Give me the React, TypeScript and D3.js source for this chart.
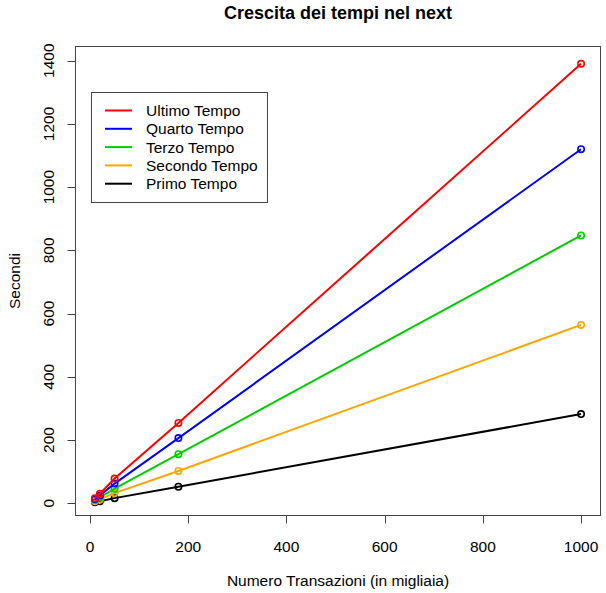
import * as d3 from "d3";

// migliaia di transazioni
const transazioni = [10, 20, 50, 180, 1000];

const ultimoTempo = [16, 30, 78, 254, 1390];
const quartoTempo = [13, 24, 62, 206, 1120];
const terzoTempo = [10, 18, 46, 155, 847];
const secondoTempo = [6, 12, 32, 102, 564];
const primoTempo = [3, 6, 16, 52, 282];

const seriesNames = ["Ultimo Tempo", "Quarto Tempo", "Terzo Tempo", "Secondo Tempo", "Primo Tempo"];
const seriesValues = [ultimoTempo, quartoTempo, terzoTempo, secondoTempo, primoTempo];
const seriesColors = ["#ff0000", "#0000ff", "#00cd00", "#ffa500", "#000000"];

const xTicks = [0, 200, 400, 600, 800, 1000];
const yTicks = [0, 200, 400, 600, 800, 1000, 1200, 1400];

const width = 606;
const height = 593;
const box = { left: 75.5, right: 600.5, top: 46.5, bottom: 515.5 };
const font = "'Liberation Sans', Arial, Helvetica, sans-serif";
const fs = 15.5;

// R style axis extension (4%)
const extend = (lo: number, hi: number) => {
  const d = (hi - lo) * 0.04;
  return [lo - d, hi + d];
};

export default function App() {
  const x = d3
    .scaleLinear()
    .domain(extend(d3.min(transazioni)!, d3.max(transazioni)!))
    .range([box.left, box.right]);
  const y = d3
    .scaleLinear()
    .domain(extend(d3.min(ultimoTempo)!, d3.max(ultimoTempo)!))
    .range([box.bottom, box.top]);

  const line = d3
    .line<number>()
    .x((_, i) => x(transazioni[i]))
    .y((d) => y(d));

  const legend = { left: 91.5, top: 92.5, right: 267.5, bottom: 202.5 };

  return (
    <svg width={width} height={height} style={{ display: "block", position: "absolute", left: 0, top: 0 }}>
      <rect width={width} height={height} fill="white" />
      <text x={(box.left + box.right) / 2} y={19} textAnchor="middle" fontFamily={font} fontWeight="bold" fontSize={18}>
        Crescita dei tempi nel next
      </text>

      {/* serie */}
      {seriesValues
        .slice()
        .reverse()
        .map((vals, ri) => {
          const i = seriesValues.length - 1 - ri;
          return (
            <g key={seriesNames[i]}>
              <path d={line(vals)!} fill="none" stroke={seriesColors[i]} strokeWidth={2} />
              {vals.map((v, j) => (
                <circle
                  key={j}
                  cx={x(transazioni[j])}
                  cy={y(v)}
                  r={3.2}
                  fill="none"
                  stroke={seriesColors[i]}
                  strokeWidth={1.6}
                />
              ))}
            </g>
          );
        })}

      <rect
        x={box.left}
        y={box.top}
        width={box.right - box.left}
        height={box.bottom - box.top}
        fill="none"
        stroke="#444"
        strokeWidth={1}
      />

      {/* asse x */}
      <line x1={x(0)} x2={x(1000)} y1={box.bottom} y2={box.bottom} stroke="#444" />
      {xTicks.map((t) => (
        <g key={t}>
          <line x1={Math.round(x(t)) + 0.5} x2={Math.round(x(t)) + 0.5} y1={box.bottom} y2={box.bottom + 8} stroke="#444" />
          <text x={x(t)} y={552} textAnchor="middle" fontFamily={font} fontSize={fs}>
            {t}
          </text>
        </g>
      ))}
      <text x={(box.left + box.right) / 2} y={586} textAnchor="middle" fontFamily={font} fontSize={fs}>
        Numero Transazioni (in migliaia)
      </text>

      {/* asse y */}
      {yTicks.map((t) => (
        <g key={t}>
          <line x1={box.left - 8} x2={box.left} y1={Math.round(y(t)) + 0.5} y2={Math.round(y(t)) + 0.5} stroke="#444" />
          <text
            transform={`translate(54,${y(t)}) rotate(-90)`}
            textAnchor="middle"
            fontFamily={font}
            fontSize={fs}
          >
            {t}
          </text>
        </g>
      ))}
      <text
        transform={`translate(20,${(box.top + box.bottom) / 2}) rotate(-90)`}
        textAnchor="middle"
        fontFamily={font}
        fontSize={fs}
      >
        Secondi
      </text>

      {/* legenda */}
      <rect
        x={legend.left}
        y={legend.top}
        width={legend.right - legend.left}
        height={legend.bottom - legend.top}
        fill="white"
        stroke="#444"
      />
      {seriesNames.map((name, i) => {
        const ry = 110.5 + i * 18.3;
        return (
          <g key={name}>
            <line x1={105} x2={132} y1={ry} y2={ry} stroke={seriesColors[i]} strokeWidth={2} />
            <text x={146} y={ry + 5.5} fontFamily={font} fontSize={fs}>
              {name}
            </text>
          </g>
        );
      })}
    </svg>
  );
}
